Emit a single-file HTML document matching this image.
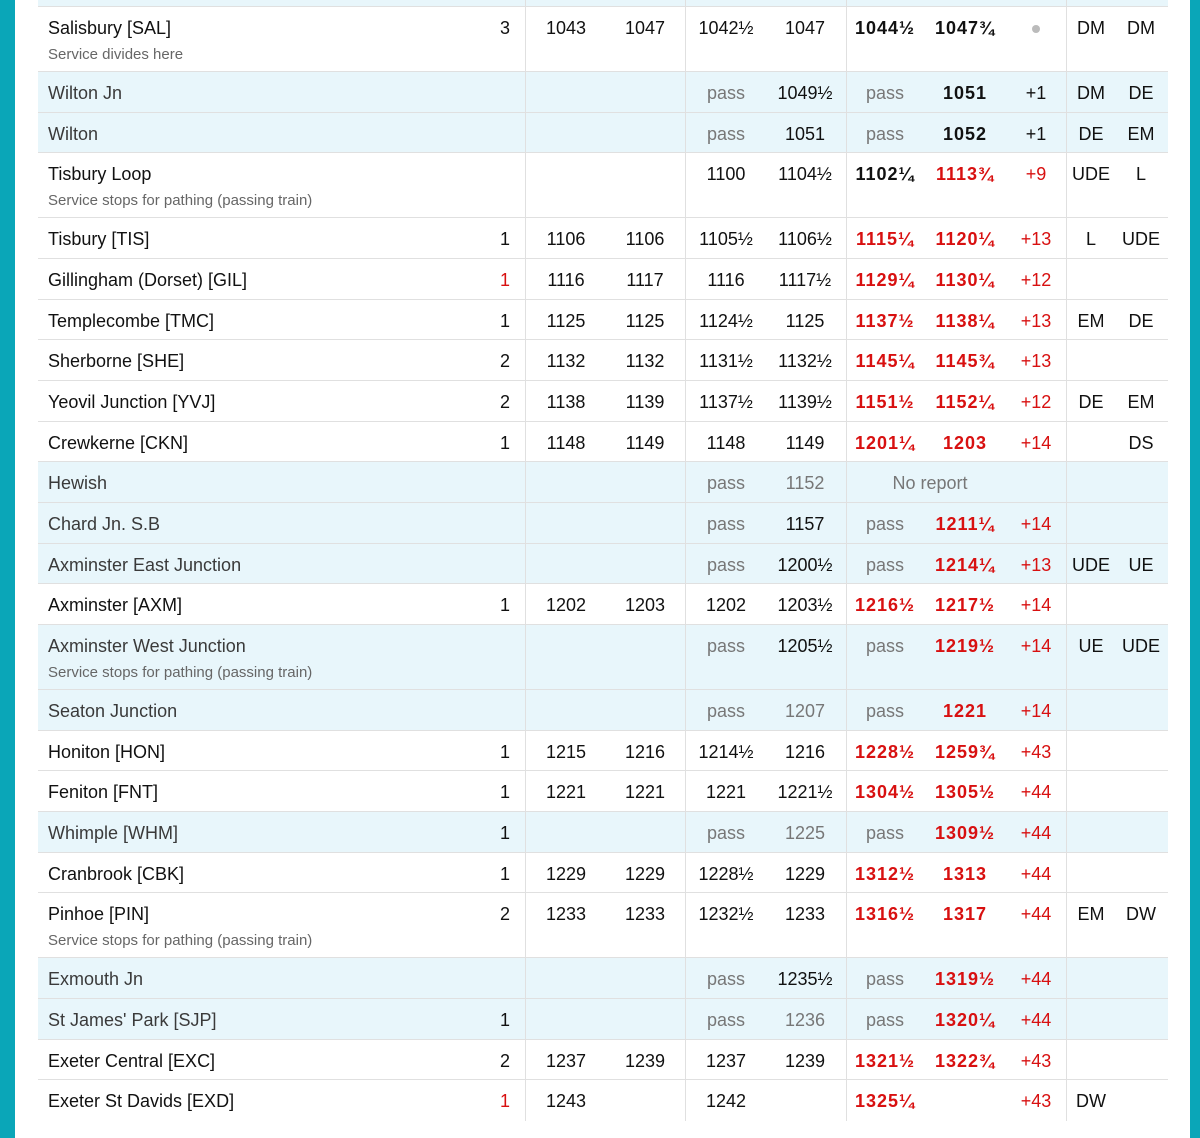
<!DOCTYPE html>
<html><head><meta charset="utf-8"><style>
*{margin:0;padding:0;box-sizing:border-box}
body{width:1200px;height:1138px;background:#fff;position:relative;overflow:hidden;font-family:"Liberation Sans",sans-serif;color:#111}
.tl{position:absolute;left:0;top:0;width:15px;height:1138px;background:#0aa6b8}
.tr{position:absolute;left:1190px;top:0;width:10px;height:1138px;background:#0aa6b8}
.wrap{position:absolute;left:38px;top:0;width:1130px}
.r{position:relative;border-bottom:1px solid #e0e0e0;height:40.65px}
.r.d{height:65.1px}
.r.b{background:#e8f6fb}
.r.b .n{color:#3a3a3a}
.r.top{height:7px;background:#e8f6fb}
.v{position:absolute;top:0;bottom:0;width:1px;background:#e0e0e0}
.c{position:absolute;top:10px;font-size:18px;line-height:22px;text-align:center;white-space:nowrap}
.n{left:10px;text-align:left}
.s{position:absolute;left:10px;top:39px;font-size:15px;color:#666;white-space:nowrap}
.p{left:442px;width:30px;text-align:right}
.wa{left:488px;width:80px}.wd{left:567px;width:80px}
.ga{left:648px;width:80px}.gd{left:727px;width:80px}
.aa{left:809px;width:76px;font-weight:bold;letter-spacing:1px}
.ad{left:887px;width:80px;font-weight:bold;letter-spacing:1px}
.dl{left:968px;width:60px}
.ln{left:1028px;width:50px}.pa{left:1078px;width:50px}
.red{color:#d81010}.g{color:#777;font-weight:normal;letter-spacing:0}
.dot{display:inline-block;width:8px;height:8px;border-radius:4px;background:#bbb;vertical-align:middle}
</style></head><body>
<div class="tl"></div><div class="tr"></div>
<div class="wrap">
<div class="r top"><div class="v" style="left:487px"></div><div class="v" style="left:647px"></div><div class="v" style="left:808px"></div><div class="v" style="left:1028px"></div></div>

<div class="r d"><div class="v" style="left:487px"></div><div class="v" style="left:647px"></div><div class="v" style="left:808px"></div><div class="v" style="left:1028px"></div>
<span class="c n">Salisbury [SAL]</span><span class="s">Service divides here</span><span class="c p">3</span><span class="c wa">1043</span><span class="c wd">1047</span><span class="c ga">1042½</span><span class="c gd">1047</span><span class="c aa">1044½</span><span class="c ad">1047¾</span><span class="c dl"><span class="dot"></span></span><span class="c ln">DM</span><span class="c pa">DM</span></div>

<div class="r b"><div class="v" style="left:487px"></div><div class="v" style="left:647px"></div><div class="v" style="left:808px"></div><div class="v" style="left:1028px"></div>
<span class="c n">Wilton Jn</span><span class="c ga g">pass</span><span class="c gd">1049½</span><span class="c aa g">pass</span><span class="c ad">1051</span><span class="c dl">+1</span><span class="c ln">DM</span><span class="c pa">DE</span></div>

<div class="r b"><div class="v" style="left:487px"></div><div class="v" style="left:647px"></div><div class="v" style="left:808px"></div><div class="v" style="left:1028px"></div>
<span class="c n">Wilton</span><span class="c ga g">pass</span><span class="c gd">1051</span><span class="c aa g">pass</span><span class="c ad">1052</span><span class="c dl">+1</span><span class="c ln">DE</span><span class="c pa">EM</span></div>

<div class="r d"><div class="v" style="left:487px"></div><div class="v" style="left:647px"></div><div class="v" style="left:808px"></div><div class="v" style="left:1028px"></div>
<span class="c n">Tisbury Loop</span><span class="s">Service stops for pathing (passing train)</span><span class="c ga">1100</span><span class="c gd">1104½</span><span class="c aa">1102¼</span><span class="c ad red">1113¾</span><span class="c dl red">+9</span><span class="c ln">UDE</span><span class="c pa">L</span></div>

<div class="r"><div class="v" style="left:487px"></div><div class="v" style="left:647px"></div><div class="v" style="left:808px"></div><div class="v" style="left:1028px"></div>
<span class="c n">Tisbury [TIS]</span><span class="c p">1</span><span class="c wa">1106</span><span class="c wd">1106</span><span class="c ga">1105½</span><span class="c gd">1106½</span><span class="c aa red">1115¼</span><span class="c ad red">1120¼</span><span class="c dl red">+13</span><span class="c ln">L</span><span class="c pa">UDE</span></div>

<div class="r"><div class="v" style="left:487px"></div><div class="v" style="left:647px"></div><div class="v" style="left:808px"></div><div class="v" style="left:1028px"></div>
<span class="c n">Gillingham (Dorset) [GIL]</span><span class="c p red">1</span><span class="c wa">1116</span><span class="c wd">1117</span><span class="c ga">1116</span><span class="c gd">1117½</span><span class="c aa red">1129¼</span><span class="c ad red">1130¼</span><span class="c dl red">+12</span></div>

<div class="r"><div class="v" style="left:487px"></div><div class="v" style="left:647px"></div><div class="v" style="left:808px"></div><div class="v" style="left:1028px"></div>
<span class="c n">Templecombe [TMC]</span><span class="c p">1</span><span class="c wa">1125</span><span class="c wd">1125</span><span class="c ga">1124½</span><span class="c gd">1125</span><span class="c aa red">1137½</span><span class="c ad red">1138¼</span><span class="c dl red">+13</span><span class="c ln">EM</span><span class="c pa">DE</span></div>

<div class="r"><div class="v" style="left:487px"></div><div class="v" style="left:647px"></div><div class="v" style="left:808px"></div><div class="v" style="left:1028px"></div>
<span class="c n">Sherborne [SHE]</span><span class="c p">2</span><span class="c wa">1132</span><span class="c wd">1132</span><span class="c ga">1131½</span><span class="c gd">1132½</span><span class="c aa red">1145¼</span><span class="c ad red">1145¾</span><span class="c dl red">+13</span></div>

<div class="r"><div class="v" style="left:487px"></div><div class="v" style="left:647px"></div><div class="v" style="left:808px"></div><div class="v" style="left:1028px"></div>
<span class="c n">Yeovil Junction [YVJ]</span><span class="c p">2</span><span class="c wa">1138</span><span class="c wd">1139</span><span class="c ga">1137½</span><span class="c gd">1139½</span><span class="c aa red">1151½</span><span class="c ad red">1152¼</span><span class="c dl red">+12</span><span class="c ln">DE</span><span class="c pa">EM</span></div>

<div class="r"><div class="v" style="left:487px"></div><div class="v" style="left:647px"></div><div class="v" style="left:808px"></div><div class="v" style="left:1028px"></div>
<span class="c n">Crewkerne [CKN]</span><span class="c p">1</span><span class="c wa">1148</span><span class="c wd">1149</span><span class="c ga">1148</span><span class="c gd">1149</span><span class="c aa red">1201¼</span><span class="c ad red">1203</span><span class="c dl red">+14</span><span class="c pa">DS</span></div>

<div class="r b"><div class="v" style="left:487px"></div><div class="v" style="left:647px"></div><div class="v" style="left:808px"></div><div class="v" style="left:1028px"></div>
<span class="c n">Hewish</span><span class="c ga g">pass</span><span class="c gd g">1152</span><span class="c g" style="left:812px;width:160px">No report</span></div>

<div class="r b"><div class="v" style="left:487px"></div><div class="v" style="left:647px"></div><div class="v" style="left:808px"></div><div class="v" style="left:1028px"></div>
<span class="c n">Chard Jn. S.B</span><span class="c ga g">pass</span><span class="c gd">1157</span><span class="c aa g">pass</span><span class="c ad red">1211¼</span><span class="c dl red">+14</span></div>

<div class="r b"><div class="v" style="left:487px"></div><div class="v" style="left:647px"></div><div class="v" style="left:808px"></div><div class="v" style="left:1028px"></div>
<span class="c n">Axminster East Junction</span><span class="c ga g">pass</span><span class="c gd">1200½</span><span class="c aa g">pass</span><span class="c ad red">1214¼</span><span class="c dl red">+13</span><span class="c ln">UDE</span><span class="c pa">UE</span></div>

<div class="r"><div class="v" style="left:487px"></div><div class="v" style="left:647px"></div><div class="v" style="left:808px"></div><div class="v" style="left:1028px"></div>
<span class="c n">Axminster [AXM]</span><span class="c p">1</span><span class="c wa">1202</span><span class="c wd">1203</span><span class="c ga">1202</span><span class="c gd">1203½</span><span class="c aa red">1216½</span><span class="c ad red">1217½</span><span class="c dl red">+14</span></div>

<div class="r d b"><div class="v" style="left:487px"></div><div class="v" style="left:647px"></div><div class="v" style="left:808px"></div><div class="v" style="left:1028px"></div>
<span class="c n">Axminster West Junction</span><span class="s">Service stops for pathing (passing train)</span><span class="c ga g">pass</span><span class="c gd">1205½</span><span class="c aa g">pass</span><span class="c ad red">1219½</span><span class="c dl red">+14</span><span class="c ln">UE</span><span class="c pa">UDE</span></div>

<div class="r b"><div class="v" style="left:487px"></div><div class="v" style="left:647px"></div><div class="v" style="left:808px"></div><div class="v" style="left:1028px"></div>
<span class="c n">Seaton Junction</span><span class="c ga g">pass</span><span class="c gd g">1207</span><span class="c aa g">pass</span><span class="c ad red">1221</span><span class="c dl red">+14</span></div>

<div class="r"><div class="v" style="left:487px"></div><div class="v" style="left:647px"></div><div class="v" style="left:808px"></div><div class="v" style="left:1028px"></div>
<span class="c n">Honiton [HON]</span><span class="c p">1</span><span class="c wa">1215</span><span class="c wd">1216</span><span class="c ga">1214½</span><span class="c gd">1216</span><span class="c aa red">1228½</span><span class="c ad red">1259¾</span><span class="c dl red">+43</span></div>

<div class="r"><div class="v" style="left:487px"></div><div class="v" style="left:647px"></div><div class="v" style="left:808px"></div><div class="v" style="left:1028px"></div>
<span class="c n">Feniton [FNT]</span><span class="c p">1</span><span class="c wa">1221</span><span class="c wd">1221</span><span class="c ga">1221</span><span class="c gd">1221½</span><span class="c aa red">1304½</span><span class="c ad red">1305½</span><span class="c dl red">+44</span></div>

<div class="r b"><div class="v" style="left:487px"></div><div class="v" style="left:647px"></div><div class="v" style="left:808px"></div><div class="v" style="left:1028px"></div>
<span class="c n">Whimple [WHM]</span><span class="c p">1</span><span class="c ga g">pass</span><span class="c gd g">1225</span><span class="c aa g">pass</span><span class="c ad red">1309½</span><span class="c dl red">+44</span></div>

<div class="r"><div class="v" style="left:487px"></div><div class="v" style="left:647px"></div><div class="v" style="left:808px"></div><div class="v" style="left:1028px"></div>
<span class="c n">Cranbrook [CBK]</span><span class="c p">1</span><span class="c wa">1229</span><span class="c wd">1229</span><span class="c ga">1228½</span><span class="c gd">1229</span><span class="c aa red">1312½</span><span class="c ad red">1313</span><span class="c dl red">+44</span></div>

<div class="r d"><div class="v" style="left:487px"></div><div class="v" style="left:647px"></div><div class="v" style="left:808px"></div><div class="v" style="left:1028px"></div>
<span class="c n">Pinhoe [PIN]</span><span class="s">Service stops for pathing (passing train)</span><span class="c p">2</span><span class="c wa">1233</span><span class="c wd">1233</span><span class="c ga">1232½</span><span class="c gd">1233</span><span class="c aa red">1316½</span><span class="c ad red">1317</span><span class="c dl red">+44</span><span class="c ln">EM</span><span class="c pa">DW</span></div>

<div class="r b"><div class="v" style="left:487px"></div><div class="v" style="left:647px"></div><div class="v" style="left:808px"></div><div class="v" style="left:1028px"></div>
<span class="c n">Exmouth Jn</span><span class="c ga g">pass</span><span class="c gd">1235½</span><span class="c aa g">pass</span><span class="c ad red">1319½</span><span class="c dl red">+44</span></div>

<div class="r b"><div class="v" style="left:487px"></div><div class="v" style="left:647px"></div><div class="v" style="left:808px"></div><div class="v" style="left:1028px"></div>
<span class="c n">St James' Park [SJP]</span><span class="c p">1</span><span class="c ga g">pass</span><span class="c gd g">1236</span><span class="c aa g">pass</span><span class="c ad red">1320¼</span><span class="c dl red">+44</span></div>

<div class="r"><div class="v" style="left:487px"></div><div class="v" style="left:647px"></div><div class="v" style="left:808px"></div><div class="v" style="left:1028px"></div>
<span class="c n">Exeter Central [EXC]</span><span class="c p">2</span><span class="c wa">1237</span><span class="c wd">1239</span><span class="c ga">1237</span><span class="c gd">1239</span><span class="c aa red">1321½</span><span class="c ad red">1322¾</span><span class="c dl red">+43</span></div>

<div class="r" style="border-bottom:none"><div class="v" style="left:487px"></div><div class="v" style="left:647px"></div><div class="v" style="left:808px"></div><div class="v" style="left:1028px"></div>
<span class="c n">Exeter St Davids [EXD]</span><span class="c p red">1</span><span class="c wa">1243</span><span class="c ga">1242</span><span class="c aa red">1325¼</span><span class="c dl red">+43</span><span class="c ln">DW</span></div>
</div>
</body></html>
